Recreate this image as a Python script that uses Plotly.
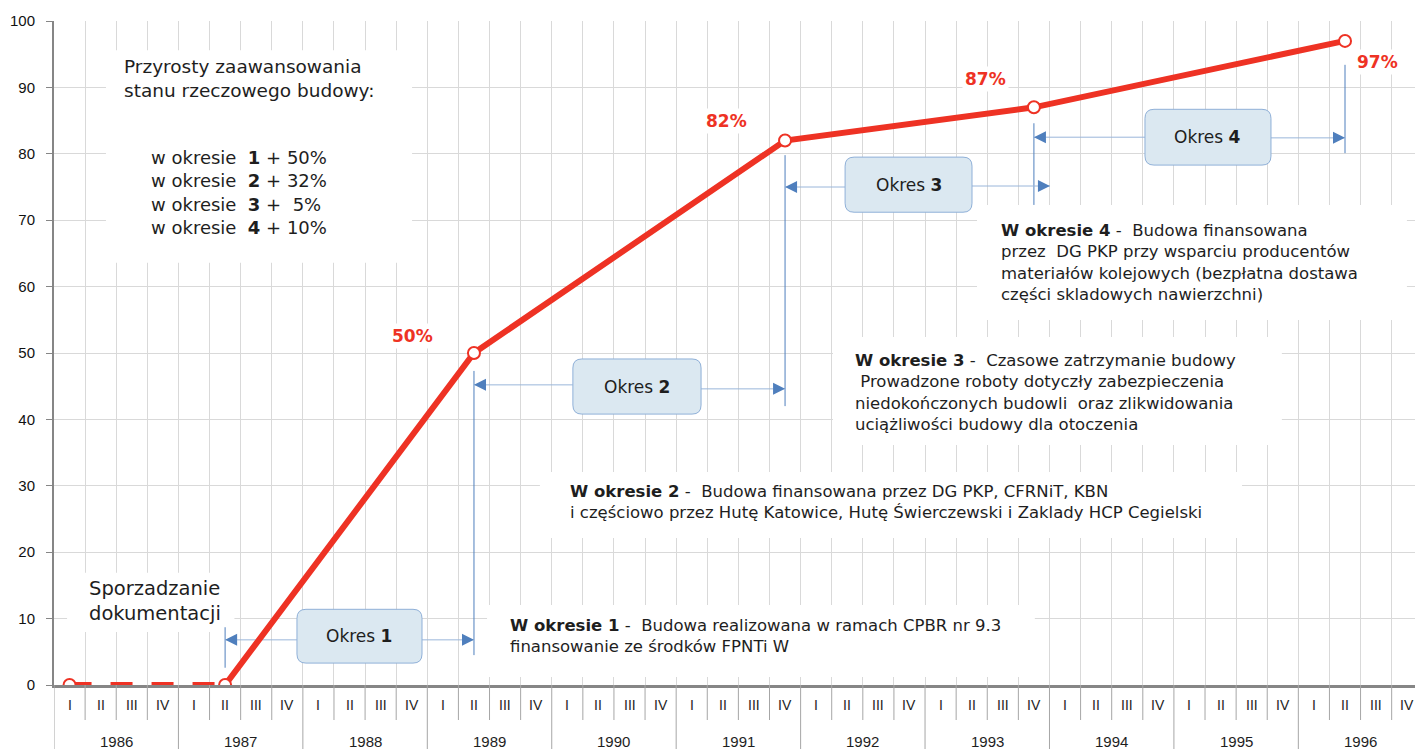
import plotly.graph_objects as go

# --- data -------------------------------------------------------------
years = list(range(1986, 1997))
quarter_names = ["I", "II", "III", "IV"]

milestone_years = [1986, 1987, 1989, 1991, 1993, 1996]
milestone_quarters = [1, 2, 2, 4, 4, 2]
progress = [0, 0, 50, 82, 87, 97]

period_labels = ["1", "2", "3", "4"]
period_gain = ["+ 50%", "+ 32%", "+\u00a0\u00a05%", "+ 10%"]

# --- geometry ---------------------------------------------------------
W, H = 1415, 749
M_L, M_R, M_T, M_B = 54, 0, 21, 64
X_MAX = 43.75
PX_X = (W - M_L - M_R) / X_MAX      # pixels per quarter
PX_Y = (H - M_T - M_B) / 100.0      # pixels per percent

RED = "#ee3224"
GRID = "#d9d9d9"
AXIS = "#868686"
BOX_FILL = "#dbe8f1"
BOX_LINE = "#8fb0d8"
ARROW_LINE = "#9ab6da"
ARROW_HEAD = "#4f7fbd"
TXT = "#1e1e1e"
GOTHIC = "Century Gothic, DejaVu Sans, sans-serif"


def qpos(year, quarter):
    """Centre of a quarter on the numeric x axis."""
    return (year - years[0]) * 4 + (quarter - 1) + 0.5


xs = [qpos(y, q) for y, q in zip(milestone_years, milestone_quarters)]

fig = go.Figure()

# documentation phase (dashed) and construction phase (solid)
fig.add_trace(go.Scatter(
    x=xs[:2], y=progress[:2], mode="lines",
    line=dict(color=RED, width=6, dash="22px,19px"),
    hoverinfo="skip"))
fig.add_trace(go.Scatter(
    x=xs[1:], y=progress[1:], mode="lines",
    line=dict(color=RED, width=6), hoverinfo="skip"))
fig.add_trace(go.Scatter(
    x=xs, y=progress, mode="markers",
    marker=dict(size=12, color="white", line=dict(color=RED, width=2)),
    hoverinfo="skip"))

shapes = []
annotations = []


def dx(px):
    return px / PX_X


def dy(px):
    return px / PX_Y


# white panels behind the text blocks
panels = [
    (1.67, 11.51, 63.6, 95.6),
    (0.42, 5.8, 8.0, 16.9),
    (13.92, 31.53, 1.2, 12.05),
    (15.62, 38.19, 22.14, 32.08),
    (25.04, 39.47, 36.14, 52.41),
    (29.67, 43.49, 54.97, 72.29),
]
for x0, x1, y0, y1 in panels:
    shapes.append(dict(type="rect", xref="x", yref="y", x0=x0, x1=x1, y0=y0, y1=y1,
                       fillcolor="white", line=dict(width=0), layer="between"))

# period boundaries: vertical markers under the milestones
v_spans = [(xs[1], 2.6, 8.7), (xs[2], 4.5, 47.3), (xs[3], 42.0, 79.8),
           (xs[4], 72.3, 84.6), (xs[5], 80.1, 93.4)]
for xv, y0, y1 in v_spans:
    shapes.append(dict(type="line", xref="x", yref="y", x0=xv, x1=xv, y0=y0, y1=y1,
                       line=dict(color=ARROW_HEAD, width=1), layer="between"))


def arrow(x_from, x_tip, yv):
    shapes.append(dict(type="line", xref="x", yref="y", x0=x_from, x1=x_tip, y0=yv, y1=yv,
                       line=dict(color=ARROW_LINE, width=1), layer="between"))
    d = 1 if x_tip > x_from else -1
    bx = x_tip - d * dx(12)
    hy = dy(6)
    shapes.append(dict(type="path", xref="x", yref="y",
                       path=f"M {x_tip},{yv} L {bx},{yv + hy} L {bx},{yv - hy} Z",
                       fillcolor=ARROW_HEAD, line=dict(width=0), layer="between"))


def rounded_box(x0, x1, y0, y1, r=9):
    rx, ry = dx(r), dy(r)
    p = (f"M {x0 + rx},{y0} L {x1 - rx},{y0} Q {x1},{y0} {x1},{y0 + ry} "
         f"L {x1},{y1 - ry} Q {x1},{y1} {x1 - rx},{y1} "
         f"L {x0 + rx},{y1} Q {x0},{y1} {x0},{y1 - ry} "
         f"L {x0},{y0 + ry} Q {x0},{y0} {x0 + rx},{y0} Z")
    shapes.append(dict(type="path", xref="x", yref="y", path=p,
                       fillcolor=BOX_FILL, line=dict(color=BOX_LINE, width=1), layer="between"))


# "Okres n" boxes with their span arrows
okres_boxes = [
    (7.81, 11.83, 3.3, 11.4, 6.8, 6.8, xs[1], xs[2]),
    (16.68, 20.80, 40.8, 49.1, 45.2, 44.6, xs[2], xs[3]),
    (25.43, 29.51, 71.2, 79.5, 75.0, 75.15, xs[3], xs[4] + dx(16)),
    (35.07, 39.12, 78.3, 86.7, 82.5, 82.4, xs[4], xs[5]),
]
for i, (x0, x1, y0, y1, yl, yr, tl, tr) in enumerate(okres_boxes):
    arrow(x0, tl, yl)
    arrow(x1, tr, yr)
    rounded_box(x0, x1, y0, y1)
    annotations.append(dict(x=(x0 + x1) / 2, y=(y0 + y1) / 2, xref="x", yref="y",
                            text=f"Okres <b>{period_labels[i]}</b>", showarrow=False,
                            font=dict(family=GOTHIC, size=17, color=TXT)))

# percentage labels next to the milestones
label_shift = {2: (-61, 17), 3: (-59, 20), 4: (-48, 28), 5: (32, -21)}
for i, (sx, sy) in label_shift.items():
    annotations.append(dict(x=xs[i], y=progress[i], xref="x", yref="y",
                            text=f"<b>{progress[i]}%</b>", showarrow=False,
                            xshift=sx, yshift=sy, bgcolor="white", borderpad=2,
                            font=dict(family=GOTHIC, size=17, color=RED)))

# summary of progress per period
annotations.append(dict(x=2.19, y=91.4, xref="x", yref="y", xanchor="left", yanchor="middle",
                        align="left", showarrow=False,
                        text="Przyrosty zaawansowania<br>stanu rzeczowego budowy:",
                        font=dict(family=GOTHIC, size=18.5, color=TXT)))
summary = "<br>".join(f"w okresie \u00a0<b>{p}</b> {g}" for p, g in zip(period_labels, period_gain))
annotations.append(dict(x=3.06, y=74.2, xref="x", yref="y", xanchor="left", yanchor="middle",
                        align="left", showarrow=False, text=summary,
                        font=dict(family=GOTHIC, size=18, color=TXT)))

annotations.append(dict(x=1.06, y=12.7, xref="x", yref="y", xanchor="left", yanchor="middle",
                        align="left", showarrow=False,
                        text="Sporzadzanie<br>dokumentacji",
                        font=dict(family=GOTHIC, size=19.5, color=TXT)))

notes = [
    (14.6, 7.4, "<b>W okresie 1</b> -\u00a0 Budowa realizowana w ramach CPBR nr 9.3<br>"
                "finansowanie ze środków FPNTi W"),
    (16.52, 27.6, "<b>W okresie 2</b> -\u00a0 Budowa finansowana przez DG PKP, CFRNiT, KBN<br>"
                  "i częściowo przez Hutę Katowice, Hutę Świerczewski i Zaklady HCP Cegielski"),
    (25.68, 44.05, "<b>W okresie 3</b> -\u00a0 Czasowe zatrzymanie budowy<br>"
                   "\u00a0Prowadzone roboty dotyczły zabezpieczenia<br>"
                   "niedokończonych budowli\u00a0 oraz zlikwidowania<br>"
                   "uciążliwości budowy dla otoczenia"),
    (30.38, 63.6, "<b>W okresie 4</b> -\u00a0 Budowa finansowana<br>"
                  "przez\u00a0 DG PKP przy wsparciu producentów<br>"
                  "materiałów kolejowych (bezpłatna dostawa<br>"
                  "części skladowych nawierzchni)"),
]
for x, y, t in notes:
    annotations.append(dict(x=x, y=y, xref="x", yref="y", xanchor="left", yanchor="middle",
                            align="left", showarrow=False, text=t,
                            font=dict(family=GOTHIC, size=16.5, color=TXT)))

# two-level category axis: quarters and years
Q_LABEL_Y = -20 / (H - M_T - M_B)
Y_LABEL_Y = -56 / (H - M_T - M_B)
Q_DIV_END = -35 / (H - M_T - M_B)
Y_DIV_END = -66 / (H - M_T - M_B)
for yi, yr in enumerate(years):
    for qi, qn in enumerate(quarter_names):
        xc = qpos(yr, qi + 1)
        if xc < X_MAX:
            annotations.append(dict(x=xc, y=Q_LABEL_Y, xref="x", yref="paper", text=qn,
                                    showarrow=False, yanchor="middle",
                                    font=dict(family="Liberation Sans", size=14, color=TXT)))
        b = yi * 4 + qi
        if b > 0:
            shapes.append(dict(type="line", xref="x", yref="paper", x0=b, x1=b, y0=0,
                               y1=Y_DIV_END if qi == 0 else Q_DIV_END,
                               line=dict(color="#a6a6a6", width=1)))
    annotations.append(dict(x=qpos(yr, 2) + 0.5, y=Y_LABEL_Y, xref="x", yref="paper",
                            text=str(yr), showarrow=False, yanchor="middle",
                            font=dict(family="Liberation Sans", size=15, color=TXT)))
shapes.append(dict(type="line", xref="x", yref="paper", x0=0, x1=0, y0=0, y1=Y_DIV_END,
                   line=dict(color="#a6a6a6", width=1)))

fig.update_layout(
    width=W, height=H,
    margin=dict(l=M_L, r=M_R, t=M_T, b=M_B, pad=0),
    paper_bgcolor="white", plot_bgcolor="white",
    showlegend=False,
    shapes=shapes, annotations=annotations,
    xaxis=dict(range=[0, X_MAX], tickmode="linear", tick0=0, dtick=1,
               showgrid=True, gridcolor=GRID, gridwidth=1,
               showticklabels=False, ticks="", zeroline=False,
               showline=True, linecolor=AXIS, linewidth=3, fixedrange=True),
    yaxis=dict(range=[0, 100], tickmode="linear", tick0=0, dtick=10,
               showgrid=True, gridcolor=GRID, gridwidth=1, zeroline=False,
               showline=True, linecolor=AXIS, linewidth=2,
               ticks="outside", ticklen=6, tickcolor=AXIS, tickwidth=1,
               ticklabelstandoff=8,
               tickfont=dict(family="Liberation Sans", size=15, color="#111"),
               fixedrange=True),
)

fig.write_html("out.html", config={"displayModeBar": False})
